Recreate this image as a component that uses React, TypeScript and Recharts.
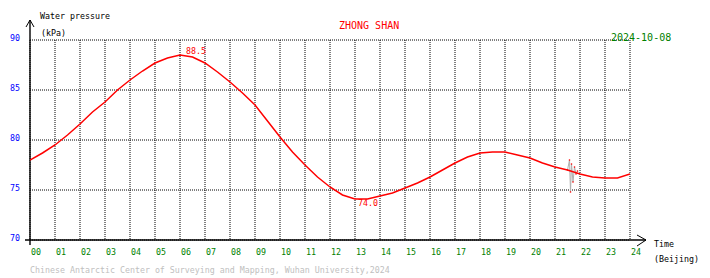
import React from 'react';
import { LineChart, Line, XAxis, YAxis, CartesianGrid, ReferenceDot, Customized } from 'recharts';

const hours = [0, 0.5, 1, 1.5, 2, 2.5, 3, 3.5, 4, 4.5, 5, 5.5, 6, 6.5, 7, 7.5, 8, 8.5, 9, 9.5, 10, 10.5, 11, 11.5, 12, 12.5, 13, 13.5, 14, 14.5, 15, 15.5, 16, 16.5, 17, 17.5, 18, 18.5, 19, 19.5, 20, 20.5, 21, 21.5, 22, 22.5, 23, 23.5, 24];
const pressure = [78.0, 78.7, 79.5, 80.5, 81.6, 82.8, 83.8, 85.0, 86.0, 86.9, 87.7, 88.2, 88.5, 88.3, 87.7, 86.8, 85.8, 84.7, 83.5, 81.9, 80.3, 78.8, 77.5, 76.3, 75.3, 74.5, 74.1, 74.1, 74.4, 74.7, 75.2, 75.7, 76.3, 77.0, 77.7, 78.3, 78.7, 78.8, 78.8, 78.5, 78.2, 77.7, 77.3, 77.0, 76.6, 76.3, 76.2, 76.2, 76.6];

const spikeHours = [21.5, 21.58, 21.62, 21.66, 21.72, 21.78, 21.84, 21.9];
const spikeValues = [77.0, 78.0, 74.8, 77.6, 75.8, 77.3, 76.6, 76.9];

const xTicks = [0, 1, 2, 3, 4, 5, 6, 7, 8, 9, 10, 11, 12, 13, 14, 15, 16, 17, 18, 19, 20, 21, 22, 23, 24];
const xTickLabels = ['00', '01', '02', '03', '04', '05', '06', '07', '08', '09', '10', '11', '12', '13', '14', '15', '16', '17', '18', '19', '20', '21', '22', '23', '24'];
const yTicks = [70, 75, 80, 85, 90];

const maxPoint = { h: 6, v: 88.5, label: '88.5' };
const minPoint = { h: 13.2, v: 74.0, label: '74.0' };

const mainData = hours.map((h, i) => ({ h, v: pressure[i] }));
const spikeData = spikeHours.map((h, i) => ({ h, v: spikeValues[i] }));

const FONT = "'DejaVu Sans Mono', monospace";

const XTick = (props: any) => {
  const { x, payload } = props;
  const idx = xTicks.indexOf(payload.value);
  return (
    <text x={x + 1} y={255} fontFamily={FONT} fontSize={8.3} fill="#008000" textAnchor="start">
      {xTickLabels[idx]}
    </text>
  );
};

const YTick = (props: any) => {
  const { y, payload } = props;
  return (
    <text x={20} y={y + 0.5} fontFamily={FONT} fontSize={8.3} fill="#0000ff" textAnchor="end">
      {payload.value}
    </text>
  );
};

const Overlay = () => (
  <g>
    <line x1={30} y1={20} x2={30} y2={245} stroke="#000" strokeWidth={1.4} />
    <polyline points="26,27 30,20 34,27" fill="none" stroke="#000" strokeWidth={1} />
    <line x1={25} y1={240} x2={646} y2={240} stroke="#000" strokeWidth={1.4} />
    <polyline points="637,235 646,240 637,246" fill="none" stroke="#000" strokeWidth={1} />
    <text x={40} y={19} fontFamily={FONT} fontSize={8.3} fill="#000">Water pressure</text>
    <text x={41} y={36} fontFamily={FONT} fontSize={8.3} fill="#000">(kPa)</text>
    <text x={339} y={29} fontFamily={FONT} fontSize={10} fill="#ff0000">ZHONG SHAN</text>
    <text x={611} y={41} fontFamily={FONT} fontSize={10} fill="#008000">2024-10-08</text>
    <text x={654} y={247} fontFamily={FONT} fontSize={8.3} fill="#000">Time</text>
    <text x={654} y={262} fontFamily={FONT} fontSize={8.3} fill="#000">(Beijing)</text>
    <text x={30} y={273} fontFamily={FONT} fontSize={8.3} fill="#c0c0c0">Chinese Antarctic Center of Surveying and Mapping, Wuhan University,2024</text>
  </g>
);

const makeLabel = (text: string, dx: number, dy: number) => (props: any) => {
  const vb = props.viewBox || {};
  const cx = (vb.x ?? 0) + (vb.width ?? 0) / 2;
  const cy = (vb.y ?? 0) + (vb.height ?? 0) / 2;
  return (
    <text x={cx + dx} y={cy + dy} fontFamily={FONT} fontSize={8.3} fill="#ff0000">
      {text}
    </text>
  );
};

export default function App() {
  return (
    <div style={{ position: 'absolute', left: 0, top: 0, width: 710, height: 278, background: '#fff' }}>
      <LineChart width={710} height={278} margin={{ top: 40, right: 80, bottom: 8, left: 0 }}>
        <CartesianGrid stroke="#000" strokeDasharray="1 1" strokeWidth={1} />
        <XAxis
          type="number"
          dataKey="h"
          domain={[0, 24]}
          ticks={xTicks}
          interval={0}
          height={30}
          axisLine={false}
          tickLine={false}
          tick={<XTick />}
          allowDataOverflow
        />
        <YAxis
          type="number"
          dataKey="v"
          domain={[70, 90]}
          ticks={yTicks}
          interval={0}
          width={30}
          axisLine={false}
          tickLine={false}
          tick={<YTick />}
          allowDataOverflow
        />
        <Line data={spikeData} dataKey="v" type="linear" stroke="#b0b0b0" strokeWidth={1} dot={{ r: 0.8, fill: '#ff0000', stroke: 'none' }} isAnimationActive={false} />
        <Line data={mainData} dataKey="v" type="linear" stroke="#ff0000" strokeWidth={1.5} dot={false} isAnimationActive={false} />
        <ReferenceDot x={maxPoint.h} y={maxPoint.v} r={1} fill="none" stroke="none" label={makeLabel(maxPoint.label, 6, -1)} />
        <ReferenceDot x={minPoint.h} y={minPoint.v} r={1} fill="none" stroke="none" label={makeLabel(minPoint.label, -2, 6)} />
        <Customized component={<Overlay />} />
      </LineChart>
    </div>
  );
}
